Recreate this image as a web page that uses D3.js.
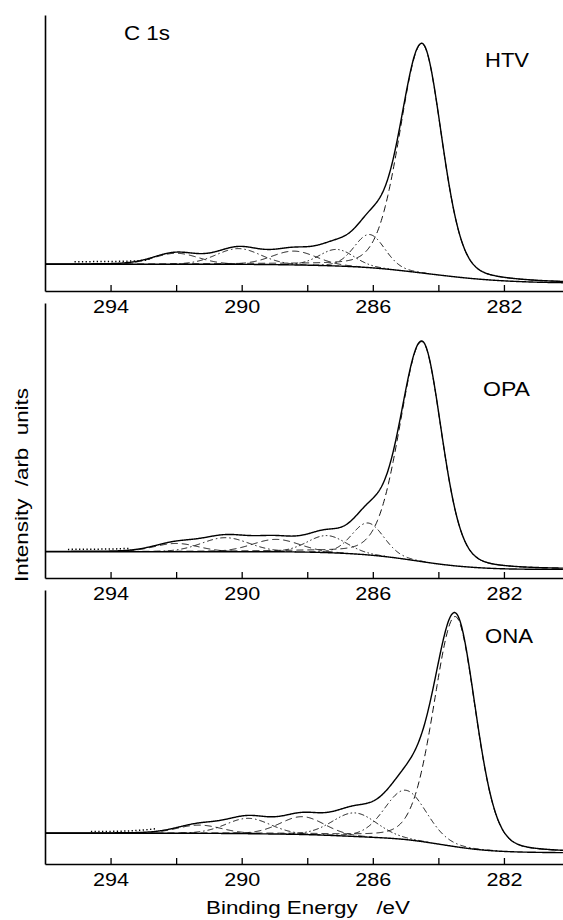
<!DOCTYPE html>
<html>
<head>
    <title>C 1s</title>
    <script src="https://d3js.org/d3.v7.min.js"></script>
    <style>
        body { margin: 0; background: #fff; }
        text { font-family: "Liberation Sans", Arial, Helvetica, sans-serif; fill: #000; }
    </style>
</head>
<body>
    <svg width="563" height="920" id="mainsvg"></svg>
    <script>
        // binding energy ticks
        const energyTicks = [294, 292, 290, 288, 286, 284, 282];
        const energyLabels = [294, 290, 286, 282];
        // line style of each fitted component (same order in every panel)
        const componentStyles = ['dash', 'dashdot', 'dash', 'dashdotdot', 'dashdot', 'dash'];
        // gaussian/lorentzian mix of each component
        const componentMix = [0.1, 0.1, 0.1, 0.1, 0.1, 0.2];

        // HTV
        const htvCenters = [292.0, 290.1, 288.4, 287.1, 286.1, 284.5];
        const htvHeights = [4.0, 5.7, 5.0, 6.0, 12.0, 83];
        const htvWidthsHigh = [1.6, 1.6, 1.6, 1.25, 1.1, 1.6];    // FWHM on the high energy side
        const htvWidthsLow = [1.6, 1.6, 1.6, 1.25, 1.1, 1.42];    // FWHM on the low energy side
        // background, 296 eV down to 280 eV in 1 eV steps
        const htvBackground = [9.67, 9.67, 9.67, 9.67, 9.67, 9.67, 9.67, 9.57, 9.38, 9.06, 8.48, 7.25, 5.8, 4.46, 3.62, 3.15, 2.97];
        const htvMeasured = [[295.1, 10.6], [294.5, 10.65], [294, 10.7], [293.5, 10.8], [293, 11.1], [292.8, 11.6]];

        // OPA
        const opaCenters = [292.0, 290.5, 288.95, 287.4, 286.15, 284.5];
        const opaHeights = [3.0, 5.1, 4.5, 6.2, 11.6, 80];
        const opaWidthsHigh = [1.6, 1.7, 1.7, 1.4, 1.15, 1.6];
        const opaWidthsLow = [1.6, 1.7, 1.7, 1.4, 1.15, 1.40];
        const opaBackground = [9.56, 9.56, 9.56, 9.56, 9.56, 9.56, 9.56, 9.56, 9.45, 9.1, 8.36, 6.9, 4.98, 3.82, 3.27, 3.16, 3.13];
        const opaMeasured = [[295.3, 10.4], [294.8, 10.45], [294.3, 10.5], [293.8, 10.6], [293.4, 10.8]];

        // ONA
        const onaCenters = [291.3, 289.8, 288.15, 286.55, 285.0, 283.48];
        const onaHeights = [3.0, 5.6, 6.5, 8.6, 18.0, 84];
        const onaWidthsHigh = [1.6, 1.6, 1.6, 1.6, 1.5, 1.55];
        const onaWidthsLow = [1.6, 1.6, 1.6, 1.6, 1.5, 1.45];
        const onaBackground = [11.2, 11.2, 11.2, 11.2, 11.2, 11.2, 11.1, 10.95, 10.77, 10.3, 9.74, 9.12, 7.3, 5.36, 4.49, 4.23, 4.12];
        const onaMeasured = [[294.6, 11.85], [294, 11.9], [293.5, 12.05], [293, 12.4], [292.6, 12.9]];

        const panels = [
            { name: 'HTV', centers: htvCenters, heights: htvHeights, wHigh: htvWidthsHigh, wLow: htvWidthsLow, bg: htvBackground, measured: htvMeasured, top: 15, bottom: 291, labelY: 67, labelX: 485, labelW: 44 },
            { name: 'OPA', centers: opaCenters, heights: opaHeights, wHigh: opaWidthsHigh, wLow: opaWidthsLow, bg: opaBackground, measured: opaMeasured, top: 303, bottom: 578, labelY: 396, labelX: 483, labelW: 47 },
            { name: 'ONA', centers: onaCenters, heights: onaHeights, wHigh: onaWidthsHigh, wLow: onaWidthsLow, bg: onaBackground, measured: onaMeasured, top: 590, bottom: 864, labelY: 643, labelX: 485, labelW: 48 }
        ];

        const dashes = {
            dash: '7,4',
            dashdot: '6,3,1.5,3',
            dashdotdot: '6,2.5,1.5,2.5,1.5,2.5'
        };

        const svg = d3.select('#mainsvg');
        const x = d3.scaleLinear().domain([296, 280]).range([45, 569.5]);
        const grid = d3.range(296, 280.19, -0.02);

        function peak(E, p, i) {
            const w = E >= p.centers[i] ? p.wHigh[i] : p.wLow[i];
            const u = (E - p.centers[i]) / w;
            const m = componentMix[i];
            return p.heights[i] * ((1 - m) * Math.exp(-4 * Math.LN2 * u * u) + m / (1 + 4 * u * u));
        }

        panels.forEach(p => {
            const y = d3.scaleLinear().domain([0, 100]).range([p.bottom, p.top]);
            const bgInterp = d3.interpolateBasis(p.bg);
            const bgAt = E => bgInterp((296 - E) / 16);
            const g = svg.append('g');

            // components on top of background
            p.centers.forEach((c, i) => {
                const pts = grid.map(E => [E, bgAt(E) + peak(E, p, i), peak(E, p, i)]);
                const compLine = d3.line()
                    .defined(d => d[2] > 0.12)
                    .x(d => x(d[0])).y(d => y(d[1]));
                g.append('path')
                    .attr('d', compLine(pts))
                    .attr('fill', 'none')
                    .attr('stroke', '#111')
                    .attr('stroke-width', 1)
                    .attr('stroke-dasharray', dashes[componentStyles[i]]);
            });

            const line = d3.line().x(d => x(d[0])).y(d => y(d[1]));

            // background
            g.append('path')
                .attr('d', line(grid.map(E => [E, bgAt(E)])))
                .attr('fill', 'none')
                .attr('stroke', '#000')
                .attr('stroke-width', 1.4);

            // envelope
            const env = grid.map(E => {
                let s = bgAt(E);
                p.centers.forEach((c, i) => { s += peak(E, p, i); });
                return [E, s];
            });
            g.append('path')
                .attr('d', line(env))
                .attr('fill', 'none')
                .attr('stroke', '#000')
                .attr('stroke-width', 1.4);

            // measured data tail (dotted)
            const dotLine = d3.line().curve(d3.curveMonotoneX).x(d => x(d[0])).y(d => y(d[1]));
            g.append('path')
                .attr('d', dotLine(p.measured))
                .attr('fill', 'none')
                .attr('stroke', '#000')
                .attr('stroke-width', 1.5)
                .attr('stroke-dasharray', '1.3,2.4');

            // axes
            const xAxis = d3.axisBottom(x)
                .tickValues(energyTicks)
                .tickSizeInner(-6)
                .tickSizeOuter(0)
                .tickPadding(9)
                .tickFormat(d => energyLabels.includes(d) ? d : '');
            const ax = g.append('g')
                .attr('transform', `translate(0,${p.bottom})`)
                .call(xAxis);
            ax.select('.domain').attr('stroke-width', 1.6);
            ax.selectAll('.tick line').attr('stroke-width', 1.3);
            ax.selectAll('text')
                .attr('font-size', 18)
                .style('font-family', '"Liberation Sans", Arial, sans-serif')
                .filter(d => energyLabels.includes(d))
                .attr('textLength', 36)
                .attr('lengthAdjust', 'spacingAndGlyphs');

            const yAxis = d3.axisLeft(y).tickValues([]).tickSizeOuter(0);
            g.append('g')
                .attr('transform', `translate(45,0)`)
                .call(yAxis)
                .select('.domain').attr('stroke-width', 1.6);

            g.append('text')
                .attr('x', p.labelX)
                .attr('y', p.labelY)
                .attr('font-size', 20)
                .attr('textLength', p.labelW)
                .attr('lengthAdjust', 'spacingAndGlyphs')
                .text(p.name);
        });

        svg.append('text')
            .attr('x', 124)
            .attr('y', 40)
            .attr('font-size', 21)
            .attr('textLength', 46)
            .attr('lengthAdjust', 'spacingAndGlyphs')
            .text('C 1s');

        svg.append('text')
            .attr('x', 206)
            .attr('y', 914)
            .attr('font-size', 18)
            .attr('textLength', 204)
            .attr('lengthAdjust', 'spacingAndGlyphs')
            .style('white-space', 'pre')
            .text('Binding Energy   /eV');

        svg.append('text')
            .attr('transform', 'translate(28,582) rotate(-90)')
            .attr('font-size', 19)
            .attr('textLength', 194)
            .attr('lengthAdjust', 'spacingAndGlyphs')
            .style('white-space', 'pre')
            .text('Intensity  /arb  units');
    </script>
</body>
</html>
